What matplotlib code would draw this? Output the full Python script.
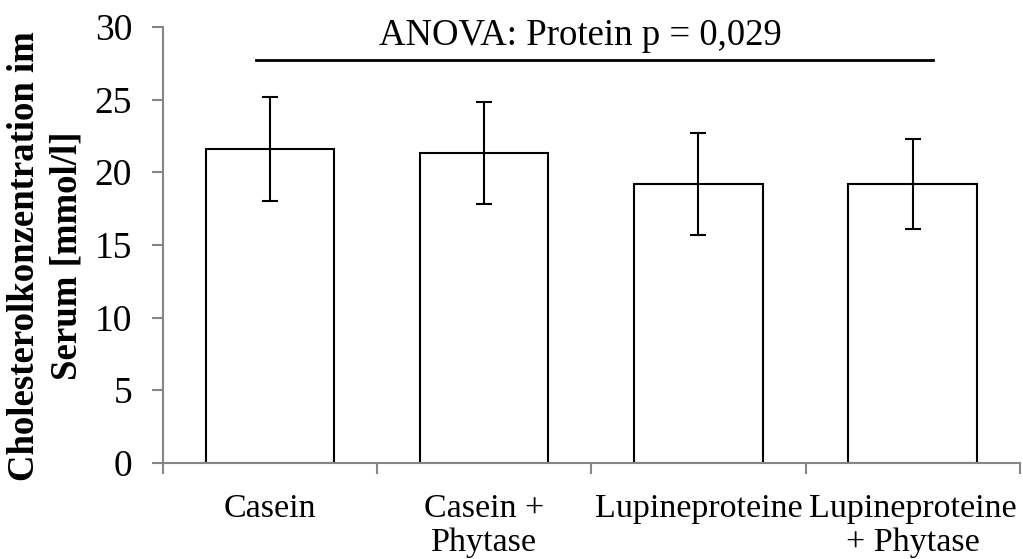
import numpy as np
import matplotlib.pyplot as plt

plt.rcParams['font.family'] = ['Liberation Serif', 'DejaVu Serif']

groups = ["Casein", "Casein +\nPhytase", "Lupineproteine", "Lupineproteine\n+ Phytase"]
means = [21.6, 21.3, 19.2, 19.2]
sds = [3.6, 3.5, 3.5, 3.1]
anova_text = "ANOVA: Protein p = 0,029"
anova_y = 27.7

grey = "#868686"
x = np.arange(len(groups))

fig = plt.figure(figsize=(10.23, 5.59), dpi=100)
ax = fig.add_axes([0.159, 0.172, 0.838, 0.780])

ax.bar(x, means, width=0.6, color="white", edgecolor="black", linewidth=1.5, zorder=2)
ax.errorbar(x, means, yerr=sds, fmt="none", ecolor="black", elinewidth=1.5,
            capsize=5.5, capthick=1.5, zorder=3)

# significance line + text
ax.plot([-0.063, 3.093], [anova_y, anova_y], color="black", lw=2, clip_on=False)
ax.text(1.45, 28.77, anova_text, ha="center", va="baseline", fontsize=26.5)

ax.set_xlim(-0.5, 3.5)
ax.set_ylim(0, 30)
ax.set_yticks(np.arange(0, 31, 5))
ax.set_xticks(np.arange(-0.5, 4.0, 1.0))
ax.set_xticklabels([])
ax.set_xticks(x, minor=True)
ax.set_xticklabels(groups, minor=True, fontsize=24.5, linespacing=1.15)
ax.tick_params(axis="x", which="minor", length=0, pad=22)
ax.tick_params(axis="x", which="major", length=8, width=1.5, color=grey, direction="out")
ax.tick_params(axis="y", length=8, width=1.5, color=grey, labelsize=27, pad=14)

for s in ["top", "right"]:
    ax.spines[s].set_visible(False)
for s in ["left", "bottom"]:
    ax.spines[s].set_color(grey)
    ax.spines[s].set_linewidth(1.5)

ax.set_ylabel("Cholesterolkonzentration im\nSerum [mmol/l]", fontsize=26.5,
              fontweight="bold", linespacing=1.3)
ax.yaxis.set_label_coords(-0.091, 0.475)

fig.savefig("out.png", dpi=100)
